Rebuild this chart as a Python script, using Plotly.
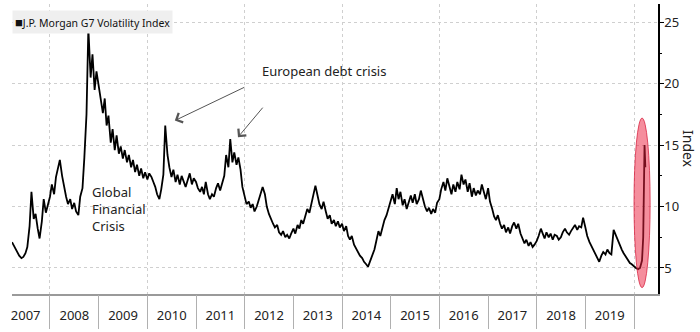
import plotly.graph_objects as go

# ---------------- data ----------------
series_name = "J.P. Morgan G7 Volatility Index"

v2007 = [7.1, 6.9, 6.6, 6.4, 6.0, 5.8, 5.9, 6.2, 6.7, 8.4, 11.2, 9.0, 9.4, 8.2, 7.4, 8.8, 10.6, 9.5, 10.0]
v2008 = [10.8, 11.8, 11.0, 12.4, 13.2, 13.8, 12.5, 11.6, 10.8, 10.2, 10.6, 9.8, 10.3, 9.6, 9.3, 10.8, 11.5, 14.0, 17.5, 24.5, 20.5, 22.4, 19.5, 21.0]
v2009 = [19.8, 18.9, 17.6, 18.8, 16.6, 17.4, 15.2, 16.3, 14.6, 15.8, 14.3, 14.9, 13.9, 14.6, 13.6, 14.2, 13.2, 13.8, 12.8, 13.4, 12.5, 13.1, 12.3, 12.8]
v2010 = [12.2, 12.7, 12.4, 12.0, 11.6, 11.0, 10.6, 11.4, 12.6, 16.6, 14.2, 13.2, 12.4, 13.0, 12.0, 12.6, 11.8, 12.5, 12.0, 11.6, 12.2, 12.7, 11.8, 12.3]
v2011 = [12.0, 11.5, 11.2, 11.6, 11.0, 12.0, 11.0, 10.6, 11.0, 10.8, 11.5, 11.9, 11.3, 11.8, 12.5, 14.2, 13.2, 15.5, 13.6, 14.4, 13.4, 14.0, 13.0, 11.6]
v2012 = [10.8, 10.2, 10.4, 9.9, 10.2, 9.6, 10.0, 10.5, 10.9, 11.6, 11.0, 10.0, 9.4, 9.0, 8.6, 8.3, 8.5, 7.9, 7.7, 8.0, 7.5, 7.7, 7.4, 7.8]
v2013 = [8.2, 7.8, 8.5, 8.2, 8.9, 8.6, 9.3, 9.8, 9.5, 10.2, 10.8, 11.7, 10.9, 10.2, 9.8, 10.4, 9.6, 9.0, 9.3, 8.6, 8.9, 8.4, 8.8, 8.3]
v2014 = [8.6, 8.0, 8.4, 7.6, 7.3, 7.6, 6.9, 6.6, 6.3, 6.0, 5.8, 5.5, 5.3, 5.1, 5.6, 6.0, 6.5, 7.2, 8.0, 7.6, 8.4, 8.9, 9.3, 9.8]
v2015 = [10.4, 11.0, 10.2, 11.5, 10.6, 11.2, 10.1, 10.6, 9.8, 10.4, 10.9, 10.3, 11.0, 10.2, 10.6, 11.3, 10.5, 10.0, 9.6, 9.9, 9.4, 9.8, 9.5, 10.3]
v2016 = [10.6, 11.4, 12.0, 11.3, 12.3, 11.6, 11.0, 11.8, 11.2, 12.0, 11.4, 12.6, 11.8, 12.2, 11.2, 11.9, 10.8, 11.5, 10.9, 11.3, 11.0, 11.8, 11.2, 10.6]
v2017 = [11.5, 10.4, 9.8, 9.2, 8.9, 9.3, 8.6, 8.2, 8.5, 7.9, 8.3, 7.8, 8.4, 8.7, 8.2, 8.6, 7.8, 7.4, 7.0, 7.3, 6.8, 7.1, 6.7, 6.9]
v2018 = [7.2, 7.6, 8.2, 7.8, 7.4, 7.9, 7.5, 7.8, 7.3, 7.7, 7.6, 7.3, 7.5, 7.9, 8.2, 7.9, 7.7, 8.0, 8.3, 8.5, 8.1, 8.4, 8.3, 9.1]
v2019 = [8.3, 7.6, 7.1, 6.8, 6.5, 6.2, 5.8, 5.5, 6.0, 6.3, 6.1, 6.5, 6.2, 6.1, 8.1, 7.7, 7.2, 6.9, 6.5, 6.2, 5.9, 5.7, 5.4, 5.3]
d2020 = ["2020-01-01", "2020-01-15", "2020-02-01", "2020-02-15", "2020-03-01",
         "2020-03-10", "2020-03-16", "2020-03-20", "2020-03-26"]
v2020 = [5.1, 5.0, 4.9, 5.0, 5.6, 7.5, 12.0, 15.0, 13.2]

full_years = {2008: v2008, 2009: v2009, 2010: v2010, 2011: v2011, 2012: v2012,
              2013: v2013, 2014: v2014, 2015: v2015, 2016: v2016, 2017: v2017,
              2018: v2018, 2019: v2019}

# annotations
debt_label = "European debt crisis"
debt_label_pos = ("2012-04-25", 21.0)
debt_arrow_heads = [("2010-07-26", 17.0, 71, -34), ("2011-11-12", 15.65, 26, -31)]
gfc_label = "Global<br>Financial<br>Crisis"
gfc_label_pos = ("2008-10-27", 9.8)
highlight = dict(x0="2020-01-01", x1="2020-05-01", y0=3.4, y1=17.2)

X_RANGE = ["2007-03-22", "2020-06-29"]
Y_RANGE = [2.88, 26.49]


def semimonthly(year, start_month=1):
    out = []
    for m in range(start_month, 13):
        out += [f"{year}-{m:02d}-01", f"{year}-{m:02d}-15"]
    return out


dates = ["2007-03-22"] + semimonthly(2007, 4)
values = list(v2007)
for yr, vals in full_years.items():
    dates += semimonthly(yr)
    values += vals
dates += d2020
values += v2020
assert len(dates) == len(values)

FONT = "Noto Sans"
fig = go.Figure()
fig.add_trace(go.Scatter(x=dates, y=values, mode="lines",
                         line=dict(color="#000000", width=1.8),
                         name=series_name, showlegend=False, hoverinfo="skip"))
# helper traces so the overlay axes (separators / 2-year grid) are drawn
for ax in ["x2", "x3"]:
    fig.add_trace(go.Scatter(x=[dates[0], dates[-1]], y=[values[0], values[-1]],
                             xaxis=ax, yaxis="y", mode="none",
                             showlegend=False, hoverinfo="skip"))

fig.update_layout(
    width=700, height=332,
    margin=dict(l=12, r=42, t=4, b=32),
    paper_bgcolor="white", plot_bgcolor="white",
    font=dict(family=FONT, color="#222222", size=13),
    xaxis=dict(type="date", range=X_RANGE, dtick="M12", tick0="2007-01-01",
               tickformat="%Y", ticklabelmode="period",
               ticks="outside", ticklen=9, tickcolor="rgba(0,0,0,0)",
               showgrid=False, zeroline=False,
               showline=True, linecolor="#9a9a9a", linewidth=1.5,
               tickfont=dict(size=13, color="#222222", family=FONT)),
    xaxis2=dict(type="date", range=X_RANGE, overlaying="x", anchor="y",
                dtick="M12", tick0="2007-01-01", ticks="outside", ticklen=34,
                tickcolor="#b0b0b0", tickwidth=1, showticklabels=False,
                showgrid=False, showline=False, zeroline=False),
    xaxis3=dict(type="date", range=X_RANGE, overlaying="x", anchor="y",
                dtick="M24", tick0="2008-01-01", ticks="", showticklabels=False,
                showgrid=True, gridcolor="#cfcfcf", griddash="dot", gridwidth=1,
                showline=False, zeroline=False),
    yaxis=dict(range=Y_RANGE, side="right", dtick=5, tick0=0,
               ticks="outside", ticklen=4, tickcolor="#000000",
               ticklabelstandoff=-2,
               showline=True, linecolor="#000000", linewidth=1.5,
               showgrid=True, gridcolor="#cfcfcf", griddash="dot", gridwidth=1,
               zeroline=False,
               minor=dict(dtick=2.5, ticks="outside", ticklen=2, tickcolor="#000000"),
               tickfont=dict(size=13, color="#222222", family=FONT)),
)

fig.add_shape(type="circle", xref="x", yref="y", layer="above",
              fillcolor="rgba(235,30,60,0.5)",
              line=dict(color="rgba(215,30,60,0.75)", width=1), **highlight)

fig.add_annotation(xref="x", yref="y", x=debt_label_pos[0], y=debt_label_pos[1],
                   text=debt_label, showarrow=False, xanchor="left", yanchor="middle",
                   font=dict(size=13, color="#222222", family=FONT))
for hx, hy, tx, ty in debt_arrow_heads:
    fig.add_annotation(xref="x", yref="y", x=hx, y=hy, ax=tx, ay=ty, text="",
                       showarrow=True, arrowhead=4, arrowsize=2.0, arrowwidth=1,
                       arrowcolor="#555555", standoff=0, startstandoff=0)
fig.add_annotation(xref="x", yref="y", x=gfc_label_pos[0], y=gfc_label_pos[1],
                   text=gfc_label, showarrow=False, xanchor="left", yanchor="middle",
                   align="left", font=dict(size=13, color="#222222", family=FONT))

# legend box
fig.add_annotation(xref="paper", yref="paper", x=0, y=(300 - 10) / 296,
                   xanchor="left", yanchor="top", showarrow=False,
                   text="<span style='font-size:13px'>■</span>" + series_name,
                   bgcolor="#efefef", borderpad=2,
                   font=dict(size=10.5, color="#111111", family=FONT))
# y axis title (reads top-to-bottom)
fig.add_annotation(xref="paper", yref="paper", x=(689 - 12) / 646, y=0.5,
                   xanchor="center", yanchor="middle", showarrow=False,
                   text="Index", textangle=90,
                   font=dict(size=14, color="#222222", family=FONT))

fig.write_html("out.html")
